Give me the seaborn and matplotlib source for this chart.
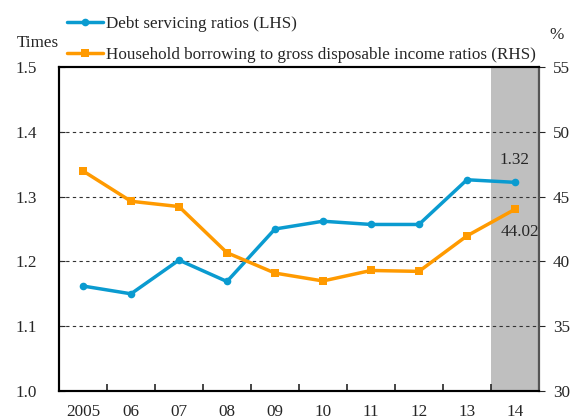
import matplotlib
matplotlib.use("Agg")
import matplotlib.pyplot as plt
import seaborn as sns
import pandas as pd
import numpy as np
from matplotlib.ticker import FixedLocator, NullFormatter

# ===================== 数据 =====================
years = ["2005", "06", "07", "08", "09", "10", "11", "12", "13", "14"]
dsr = [1.162, 1.150, 1.202, 1.169, 1.250, 1.262, 1.257, 1.257, 1.326, 1.322]
hh_borrow = [46.98, 44.64, 44.23, 40.67, 39.10, 38.49, 39.30, 39.23, 41.97, 44.02]

BLUE = "#0A9BD0"
ORANGE = "#FF9A00"
GREY = "#BFBFBF"
FS = 12.3

df = pd.DataFrame({"pos": np.arange(len(years)), "dsr": dsr, "hh": hh_borrow})

sns.set_style("white")
plt.rcParams["font.family"] = ["Liberation Serif", "DejaVu Serif"]
plt.rcParams["font.size"] = FS

fig = plt.figure(figsize=(5.7, 4.19), dpi=100)
ax = fig.add_axes([0.1035, 0.0668, 0.842, 0.7733])
ax2 = ax.twinx()

# 灰色阴影（最后一年）
ax.axvspan(len(years) - 1.5, len(years) - 0.5, color=GREY, lw=0, zorder=0)

sns.lineplot(data=df, x="pos", y="dsr", ax=ax, color=BLUE, lw=2.5, marker="o",
             markersize=8, markeredgewidth=0, label="Debt servicing ratios (LHS)", legend=False)
sns.lineplot(data=df, x="pos", y="hh", ax=ax2, color=ORANGE, lw=2.5, marker="s",
             markersize=8, markeredgewidth=0,
             label="Household borrowing to gross disposable income ratios (RHS)", legend=False)

ax.set_xlim(-0.5, len(years) - 0.5)
ax.set_ylim(1.0, 1.5)
ax2.set_ylim(30, 55)
ax.set_yticks([1.0, 1.1, 1.2, 1.3, 1.4, 1.5])
ax.set_yticklabels(["1.0", "1.1", "1.2", "1.3", "1.4", "1.5"])
ax2.set_yticks([30, 35, 40, 45, 50, 55])

ax.set_xticks(np.arange(len(years)))
ax.set_xticklabels(years)
ax.xaxis.set_minor_locator(FixedLocator(np.arange(0.5, len(years) - 0.5, 1)))
ax.xaxis.set_minor_formatter(NullFormatter())
ax.tick_params(axis="x", which="major", length=0, pad=9)
ax.tick_params(axis="x", which="minor", direction="in", length=5, width=1.2, bottom=True)
ax.tick_params(axis="y", direction="in", length=4, left=True, pad=16)
ax2.tick_params(axis="y", direction="out", length=4, right=True, pad=6)

ax.set_xlabel("")
ax.set_ylabel("")
ax2.set_ylabel("")

for y in [1.1, 1.2, 1.3, 1.4]:
    ax.axhline(y, color="#333333", ls=(0, (3, 3)), lw=0.8, zorder=1)

for a in (ax, ax2):
    for s in a.spines.values():
        s.set_color("black")
        s.set_linewidth(1.5)
ax2.spines["right"].set_color("#555555")

# 数据标签
ax.text(len(years) - 1, dsr[-1] + 0.022, f"{dsr[-1]:.2f}", ha="center", va="bottom", fontsize=FS)
ax2.text(len(years) - 1 + 0.1, hh_borrow[-1] - 1.1, f"{hh_borrow[-1]:.2f}", ha="center", va="top", fontsize=FS)

fig.text(0.03, 1 - 43 / 419, "Times", fontsize=FS, va="center")
fig.text(0.977, 1 - 35 / 419, "%", fontsize=FS, va="center", ha="center")

h1, l1 = ax.get_legend_handles_labels()
h2, l2 = ax2.get_legend_handles_labels()
for h in h1 + h2:
    h.set_markersize(5.5)
fig.legend(h1 + h2, l1 + l2, loc="upper left", bbox_to_anchor=(67 / 570, 1 - 16 / 419), frameon=False,
           handlelength=2.1, handletextpad=0.2, labelspacing=0.85, fontsize=FS,
           borderaxespad=0, borderpad=0)

fig.savefig("out.png", dpi=100)
